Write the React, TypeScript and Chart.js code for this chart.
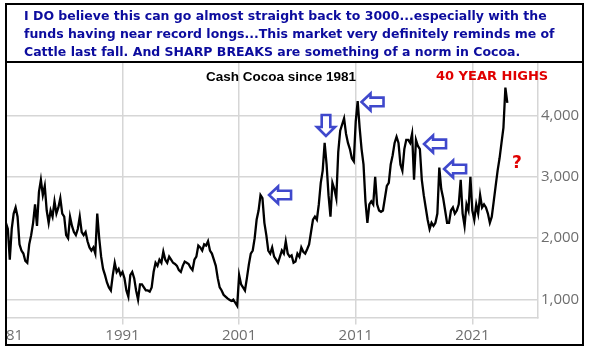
import React, { useEffect, useRef } from 'react';
import { Chart, registerables } from 'chart.js';

Chart.register(...registerables);

// ---- data (bi-monthly readings, 6 per year, starting Jan 1981) ----
const START_YEAR = 1981;
const STEPS_PER_YEAR = 6;

const prices1981to1990 = [
  2250, 2150, 1650, 2150, 2400, 2500,
  2350, 1900, 1800, 1750, 1630, 1600,
  1900, 2050, 2250, 2550, 2200, 2750,
  2950, 2700, 2850, 2450, 2250, 2450,
  2350, 2600, 2400, 2500, 2650, 2400,
  2350, 2050, 2000, 2350, 2200, 2100,
  2050, 2150, 2350, 2100, 2050, 2100,
  1950, 1850, 1800, 1850, 1750, 2400,
  2000, 1700, 1500, 1400, 1280, 1200,
  1150, 1400, 1600, 1450, 1500, 1400,
];

const prices1991to2000 = [
  1450, 1350, 1150, 1050, 1400, 1450,
  1350, 1150, 1000, 1250, 1250, 1200,
  1150, 1150, 1130, 1200, 1450, 1600,
  1550, 1650, 1600, 1780, 1650, 1600,
  1700, 1650, 1600, 1580, 1550, 1480,
  1450, 1550, 1620, 1600, 1580, 1520,
  1480, 1650, 1700, 1880, 1850, 1800,
  1900, 1880, 1950, 1800, 1750, 1650,
  1550, 1350, 1200, 1150, 1080, 1050,
  1020, 1000, 980, 1000, 950, 900,
];

const prices2001to2010 = [
  1400, 1250, 1200, 1150, 1350, 1570,
  1750, 1800, 2000, 2300, 2450, 2700,
  2650, 2250, 2050, 1800, 1750, 1850,
  1700, 1650, 1600, 1700, 1800, 1750,
  1950, 1750, 1700, 1720, 1600, 1620,
  1750, 1700, 1850, 1780, 1750, 1820,
  1900, 2100, 2300, 2350, 2300, 2550,
  2900, 3100, 3550, 3200, 2700, 2350,
  2900, 2800, 2650, 3400, 3750, 3850,
  3950, 3700, 3550, 3450, 3300, 3250,
];

const prices2011to2020 = [
  3900, 4230, 3800, 3450, 3200, 2600,
  2250, 2550, 2600, 2550, 3000, 2550,
  2450, 2430, 2450, 2650, 2850, 2900,
  3200, 3350, 3550, 3650, 3550, 3200,
  3100, 3450, 3600, 3600, 3550, 3700,
  2950, 3600, 3500, 3450, 2950, 2700,
  2500, 2300, 2150, 2250, 2200, 2250,
  2400, 3150, 2800, 2650, 2450, 2250,
  2250, 2450, 2500, 2400, 2450, 2550,
  2950, 2400, 2200, 2550, 2450, 3000,
];

const prices2021to2024 = [
  2450, 2300, 2550, 2400, 2700, 2500,
  2550, 2500, 2400, 2250, 2350, 2600,
  2850, 3100, 3300, 3550, 3800, 4450,
  4200,
];

const xTickYears = [1981, 1991, 2001, 2011, 2021];
const yTickValues = [1000, 2000, 3000, 4000];

// annotation arrows: [year, price, direction]
const arrowYears = [2004.51, 2008.45, 2012.44, 2017.8, 2019.52];
const arrowPrices = [2703, 3834, 4216, 3533, 3126];
const arrowDirections = ['left', 'down', 'left', 'left', 'left'];

const headerLines = [
  'I DO believe this can go almost straight back to 3000...especially with the',
  'funds having near record longs...This market very definitely reminds me of',
  'Cattle last fall. And SHARP BREAKS are something of a norm in Cocoa.',
];

const GRID = '#d6d6d6';
const TICK = '#6e6e6e';
const ARROW = '#3f48cc';

const arrowPlugin = {
  id: 'arrows',
  afterDatasetsDraw(chart: any) {
    const { ctx, scales } = chart;
    arrowYears.forEach((yr, i) => {
      const px = scales.x.getPixelForValue(yr);
      const py = scales.y.getPixelForValue(arrowPrices[i]);
      const dir = arrowDirections[i];
      ctx.save();
      ctx.translate(px, py);
      let len = 22, half = 8.5;
      if (dir === 'down') { ctx.rotate(-Math.PI / 2); len = 21; half = 9; }
      const hl = len / 2;
      const headW = 9;
      const shaft = 4.3;
      ctx.beginPath();
      ctx.moveTo(-hl, 0);
      ctx.lineTo(-hl + headW, -half);
      ctx.lineTo(-hl + headW, -shaft);
      ctx.lineTo(hl, -shaft);
      ctx.lineTo(hl, shaft);
      ctx.lineTo(-hl + headW, shaft);
      ctx.lineTo(-hl + headW, half);
      ctx.closePath();
      ctx.fillStyle = '#ffffff';
      ctx.fill();
      ctx.lineWidth = 2.6;
      ctx.lineJoin = 'miter';
      ctx.strokeStyle = ARROW;
      ctx.stroke();
      ctx.restore();
    });
  },
};

export default function App() {
  const canvasRef = useRef<HTMLCanvasElement | null>(null);

  useEffect(() => {
    document.body.style.margin = '0';
    const canvas = canvasRef.current;
    if (!canvas) return;
    const allPrices = [
      ...prices1981to1990,
      ...prices1991to2000,
      ...prices2001to2010,
      ...prices2011to2020,
      ...prices2021to2024,
    ];
    const points = allPrices.map((v, i) => ({ x: START_YEAR + i / STEPS_PER_YEAR, y: v }));
    const tickFont = { family: '"Open Sans", sans-serif', size: 15 };

    const chart = new Chart(canvas, {
      type: 'line',
      data: {
        datasets: [
          {
            data: points,
            borderColor: '#000000',
            borderWidth: 2.3,
            pointRadius: 0,
            tension: 0,
            fill: false,
          },
        ],
      },
      options: {
        animation: false,
        responsive: false,
        maintainAspectRatio: false,
        layout: { padding: { left: 5.9, top: 63, right: 0, bottom: 0 } },
        plugins: { legend: { display: false }, tooltip: { enabled: false } },
        scales: {
          x: {
            type: 'linear',
            min: 1981,
            max: 2026.63,
            afterBuildTicks: (s: any) => {
              s.ticks = xTickYears.map((v) => ({ value: v }));
            },
            afterFit: (s: any) => {
              s.paddingLeft = 0;
              s.paddingRight = 0;
              s.height = 36.5;
            },
            grid: { color: GRID, lineWidth: 1.5, tickLength: 7, drawTicks: true },
            border: { display: true, color: GRID, width: 1.5 },
            ticks: {
              color: TICK,
              font: tickFont,
              padding: 2,
              maxRotation: 0,
              autoSkip: false,
              callback: (v: any) => String(v),
            },
          },
          y: {
            type: 'linear',
            position: 'right',
            min: 710,
            max: 4850,
            afterBuildTicks: (s: any) => {
              s.ticks = yTickValues.map((v) => ({ value: v }));
            },
            afterFit: (s: any) => {
              s.width = 53;
              s.paddingTop = 0;
              s.paddingBottom = 0;
            },
            grid: { color: GRID, lineWidth: 1.5, drawTicks: false },
            border: { display: true, color: GRID, width: 1.5 },
            ticks: {
              color: TICK,
              font: tickFont,
              padding: 3,
              callback: (v: any) => Number(v).toLocaleString('en-US'),
            },
          },
        },
      },
      plugins: [arrowPlugin],
    } as any);
    return () => chart.destroy();
  }, []);

  return (
    <div style={{ position: 'fixed', left: 0, top: 0, width: 591, height: 354, background: '#fff', overflow: 'hidden' }}>
      <canvas ref={canvasRef} width={591} height={354} style={{ position: 'absolute', left: 0, top: 0, width: 591, height: 354 }} />
      <div style={{ position: 'absolute', left: 0, top: 0, width: 5, height: 354, background: '#fff' }} />
      <div style={{ position: 'absolute', left: 5, top: 3, width: 579, height: 343, border: '2px solid #000', boxSizing: 'border-box' }} />
      <div style={{ position: 'absolute', left: 5, top: 61, width: 579, height: 2, background: '#000' }} />
      <div
        style={{
          position: 'absolute',
          left: 24,
          top: 7,
          fontFamily: '"DejaVu Sans", sans-serif',
          fontWeight: 'bold',
          fontSize: 12.5,
          lineHeight: '18px',
          color: '#0c0c9e',
          whiteSpace: 'pre',
        }}
      >
        {headerLines.map((l, i) => (
          <div key={i}>{l}</div>
        ))}
      </div>
      <div
        style={{
          position: 'absolute',
          left: 206,
          top: 70.4,
          fontFamily: '"Liberation Sans", Arial, sans-serif',
          fontWeight: 'bold',
          fontSize: 13.5,
          lineHeight: '13.5px',
          color: '#000',
          whiteSpace: 'pre',
        }}
      >
        Cash Cocoa since 1981
      </div>
      <div
        style={{
          position: 'absolute',
          left: 436,
          top: 68.7,
          fontFamily: '"DejaVu Sans", sans-serif',
          fontWeight: 'bold',
          fontSize: 13,
          lineHeight: '13px',
          color: '#e00000',
          whiteSpace: 'pre',
        }}
      >
        40 YEAR HIGHS
      </div>
      <div
        style={{
          position: 'absolute',
          left: 512,
          top: 153.8,
          fontFamily: '"DejaVu Sans", sans-serif',
          fontWeight: 'bold',
          fontSize: 17,
          lineHeight: '17px',
          color: '#e00000',
        }}
      >
        ?
      </div>
    </div>
  );
}
